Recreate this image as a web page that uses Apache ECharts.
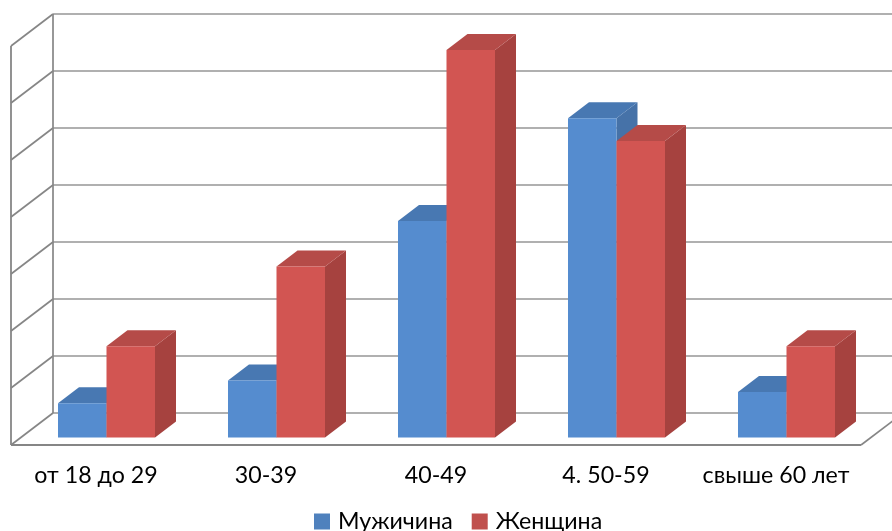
<!DOCTYPE html>
<html>
<head>
<meta charset="utf-8">
<style>html,body{margin:0;padding:0;background:#fff}#c{width:892px;height:531px}</style>
<script src="https://cdn.jsdelivr.net/npm/echarts@6/dist/echarts.min.js"></script>
</head>
<body>
<div id="c"></div>
<script>
var categories = ['от 18 до 29', '30-39', '40-49', '4. 50-59', 'свыше 60 лет'];
var maleValues = [0.6, 1.0, 3.8, 5.6, 0.8];
var femaleValues = [1.6, 3.0, 6.8, 5.2, 1.6];
var gridValues = [0, 1, 2, 3, 4, 5, 6, 7];
var maleName = 'Мужичина';
var femaleName = 'Женщина';

var FONT = 'Lato, Carlito, "Open Sans", sans-serif';
var WALL = '#868686', GRID = '#969696';
// 3D projection offsets, px
var BAR_DX = 21, BAR_DY = -16;
var WALL_BACK_DX = 31.5, WALL_BACK_DY = -24.5;
var WALL_FRONT_DX = -10.5, WALL_FRONT_DY = 7.5;
var BAR_WIDTH_RATIO = 0.2853;

function barRenderer(side, colors) {
  return function (params, api) {
    var cat = api.value(0), val = api.value(1);
    var top = api.coord([cat, val]);
    var base = api.coord([cat, 0]);
    var w = api.size([1, 0])[0] * BAR_WIDTH_RATIO;
    var x0 = side < 0 ? top[0] - w : top[0];
    var x1 = x0 + w;
    return {
      type: 'group',
      children: [
        { type: 'polygon', shape: { points: [[x1, top[1]], [x1 + BAR_DX, top[1] + BAR_DY], [x1 + BAR_DX, base[1] + BAR_DY], [x1, base[1]]] }, style: { fill: colors.side } },
        { type: 'polygon', shape: { points: [[x0, top[1]], [x0 + BAR_DX, top[1] + BAR_DY], [x1 + BAR_DX, top[1] + BAR_DY], [x1, top[1]]] }, style: { fill: colors.top } },
        { type: 'rect', shape: { x: x0, y: top[1], width: w, height: base[1] - top[1] }, style: { fill: colors.front } }
      ]
    };
  };
}

function wallRenderer(params, api) {
  var v = api.value(1);
  var p = api.coord([0, v]);
  var band = api.size([1, 0])[0];
  var left = p[0] - band / 2;
  var right = left + band * categories.length;
  var fx = left + WALL_FRONT_DX, fy = p[1] + WALL_FRONT_DY;
  var bx = left + WALL_BACK_DX, by = p[1] + WALL_BACK_DY;
  var children = [
    { type: 'line', shape: { x1: bx, y1: by, x2: right + WALL_BACK_DX, y2: by }, style: { stroke: GRID, lineWidth: 1.6 } },
    { type: 'line', shape: { x1: fx, y1: fy, x2: bx, y2: by }, style: { stroke: WALL, lineWidth: 1.6 } }
  ];
  if (v === gridValues[gridValues.length - 1]) {
    var b = api.coord([0, gridValues[0]]);
    children.push({ type: 'line', shape: { x1: bx, y1: by, x2: bx, y2: b[1] + WALL_BACK_DY }, style: { stroke: WALL, lineWidth: 1.7 } });
    children.push({ type: 'line', shape: { x1: fx, y1: fy, x2: fx, y2: b[1] + WALL_FRONT_DY }, style: { stroke: WALL, lineWidth: 1.8 } });
  }
  if (v === gridValues[0]) {
    var frx = right + WALL_FRONT_DX;
    children.push({ type: 'line', shape: { x1: fx, y1: fy, x2: frx, y2: fy }, style: { stroke: WALL, lineWidth: 1.8 } });
    children.push({ type: 'line', shape: { x1: frx, y1: fy, x2: right + WALL_BACK_DX, y2: by }, style: { stroke: WALL, lineWidth: 1.6 } });
  }
  return { type: 'group', children: children };
}

var chart = echarts.init(document.getElementById('c'), null, { renderer: 'canvas' });
chart.setOption({
  animation: false,
  backgroundColor: '#ffffff',
  grid: { left: 21.5, right: 20.5, top: 38.5, height: 399, containLabel: false },
  xAxis: {
    type: 'category',
    data: categories,
    axisLine: { show: false },
    axisTick: { show: false },
    splitLine: { show: false },
    axisLabel: { interval: 0, margin: 27, color: '#000000', fontFamily: FONT, fontSize: 23.2, padding: [0, 21, 0, 0] }
  },
  yAxis: {
    type: 'value', min: 0, max: 7, interval: 1,
    axisLine: { show: false }, axisTick: { show: false },
    splitLine: { show: false }, axisLabel: { show: false }
  },
  legend: {
    left: 314, top: 510, itemWidth: 16, itemHeight: 16, itemGap: 19, icon: 'rect',
    padding: 0,
    data: [maleName, femaleName],
    textStyle: { color: '#000000', fontFamily: FONT, fontSize: 23.2, padding: [0, 0, 0, 3] }
  },
  series: [
    { type: 'custom', name: 'walls', silent: true, clip: false, z: 1,
      encode: { x: 0, y: 1 }, renderItem: wallRenderer,
      data: gridValues.map(function (v) { return [0, v]; }) },
    { type: 'custom', name: maleName, clip: false, z: 2,
      itemStyle: { color: '#4F81BD' },
      encode: { x: 0, y: 1 },
      renderItem: barRenderer(-1, { front: '#558CCF', top: '#4878B2', side: '#4672A8' }),
      data: maleValues.map(function (v, i) { return [i, v]; }) },
    { type: 'custom', name: femaleName, clip: false, z: 3,
      itemStyle: { color: '#C0504D' },
      encode: { x: 0, y: 1 },
      renderItem: barRenderer(1, { front: '#D25552', top: '#B54B48', side: '#A6423F' }),
      data: femaleValues.map(function (v, i) { return [i, v]; }) }
  ]
});
</script>
</body>
</html>
